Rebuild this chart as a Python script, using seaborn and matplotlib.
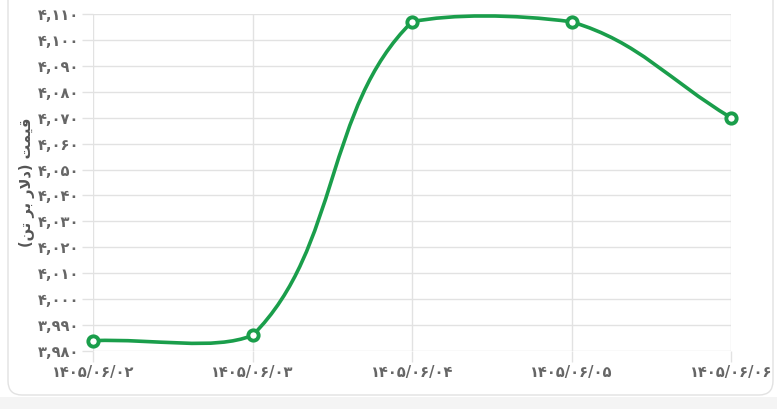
import numpy as np
import pandas as pd
import matplotlib
matplotlib.use("Agg")
import matplotlib.pyplot as plt
from matplotlib.path import Path
from matplotlib.patches import PathPatch, FancyBboxPatch, Rectangle
from matplotlib.ticker import FuncFormatter
import seaborn as sns

sns.set_theme(style="white")
plt.rcParams['font.family'] = ['DejaVu Sans']

# Data (Persian calendar dates, price in USD per ton)
dates = ["۱۴۰۵/۰۶/۰۲", "۱۴۰۵/۰۶/۰۳", "۱۴۰۵/۰۶/۰۴", "۱۴۰۵/۰۶/۰۵", "۱۴۰۵/۰۶/۰۶"]
prices = [3984, 3986, 4107, 4107, 4070]
y_ticks = list(range(3980, 4111, 10))

# "قیمت (دلار بر تن)" in shaped, visual order (matplotlib has no bidi/shaping)
y_label = "(\uFEE6\uFE97 \uFEAE\uFE91 \uFEAD\uFEFB\uFEA9) \uFE96\uFEE4\uFEF4\uFED7"

green = "#1a9e4b"
grid_c = "#e2e2e2"
text_c = "#666666"

df = pd.DataFrame({"x": range(len(dates)), "price": prices})

W, H = 777, 409
fig = plt.figure(figsize=(W / 100, H / 100), dpi=100)
fig.patch.set_facecolor("white")

# page background strip + card
fig.patches.append(Rectangle((0, 0), 1, 12 / H, transform=fig.transFigure,
                             facecolor="#f4f4f4", edgecolor="none", zorder=-2))
fig.patches.append(FancyBboxPatch((8 / W, 14 / H), 765 / W, 1.2,
                                  boxstyle="round,pad=0,rounding_size=0.018",
                                  transform=fig.transFigure, facecolor="white",
                                  edgecolor="#e2e2e2", linewidth=1, zorder=-1,
                                  mutation_aspect=W / H))

ax = fig.add_axes([93 / W, 1 - 351 / H, (731 - 93) / W, (351 - 14) / H])
ax.set_zorder(5)
ax.set_facecolor("none")
ax.set_xlim(0, len(dates) - 1)
ax.set_ylim(3980, 4110)

# smooth line (Chart.js style bezier, tension 0.4) computed in pixel space
pts = ax.transData.transform(np.column_stack([df["x"], df["price"]]))
t = 0.4
cps = []
n = len(pts)
for i in range(n):
    prev = pts[i - 1] if i > 0 else pts[i]
    cur = pts[i]
    nxt = pts[i + 1] if i < n - 1 else pts[i]
    d01 = np.hypot(*(cur - prev))
    d12 = np.hypot(*(nxt - cur))
    tot = d01 + d12
    s01 = d01 / tot if tot else 0
    s12 = d12 / tot if tot else 0
    cps.append((cur - t * s01 * (nxt - prev), cur + t * s12 * (nxt - prev)))

bb = ax.bbox
def cap(p):
    return np.array([np.clip(p[0], bb.x0, bb.x1), np.clip(p[1], bb.y0, bb.y1)])

verts = [pts[0]]
codes = [Path.MOVETO]
for i in range(n - 1):
    verts += [cap(cps[i][1]), cap(cps[i + 1][0]), pts[i + 1]]
    codes += [Path.CURVE4] * 3
verts = ax.transData.inverted().transform(np.array(verts))
ax.add_patch(PathPatch(Path(verts, codes), facecolor="none", edgecolor=green,
                       linewidth=2.6, capstyle="round", joinstyle="round", zorder=3))

sns.scatterplot(data=df, x="x", y="price", ax=ax, s=55, color="white",
                edgecolor=green, linewidth=2.8, zorder=4, clip_on=False, legend=False)

def fa_digits(s):
    return s.translate(str.maketrans("0123456789", "۰۱۲۳۴۵۶۷۸۹"))

ax.set_xticks(df["x"])
ax.set_xticklabels(dates)
ax.set_yticks(y_ticks)
ax.yaxis.set_major_formatter(FuncFormatter(lambda v, p: fa_digits(f"{int(v):,}")))

ax.grid(True, color=grid_c, linewidth=1)
for s in ax.spines.values():
    s.set_visible(False)
ax.tick_params(axis="both", length=8, width=1, color=grid_c, labelcolor=text_c,
               labelsize=10.5, pad=2, left=True, bottom=True)
for lbl in ax.get_xticklabels() + ax.get_yticklabels():
    lbl.set_fontweight("bold")

ax.set_xlabel("")
ax.set_ylabel(y_label, fontsize=10.5, fontweight="bold", color="#555555", labelpad=2)

fig.savefig("out.png", dpi=100)
